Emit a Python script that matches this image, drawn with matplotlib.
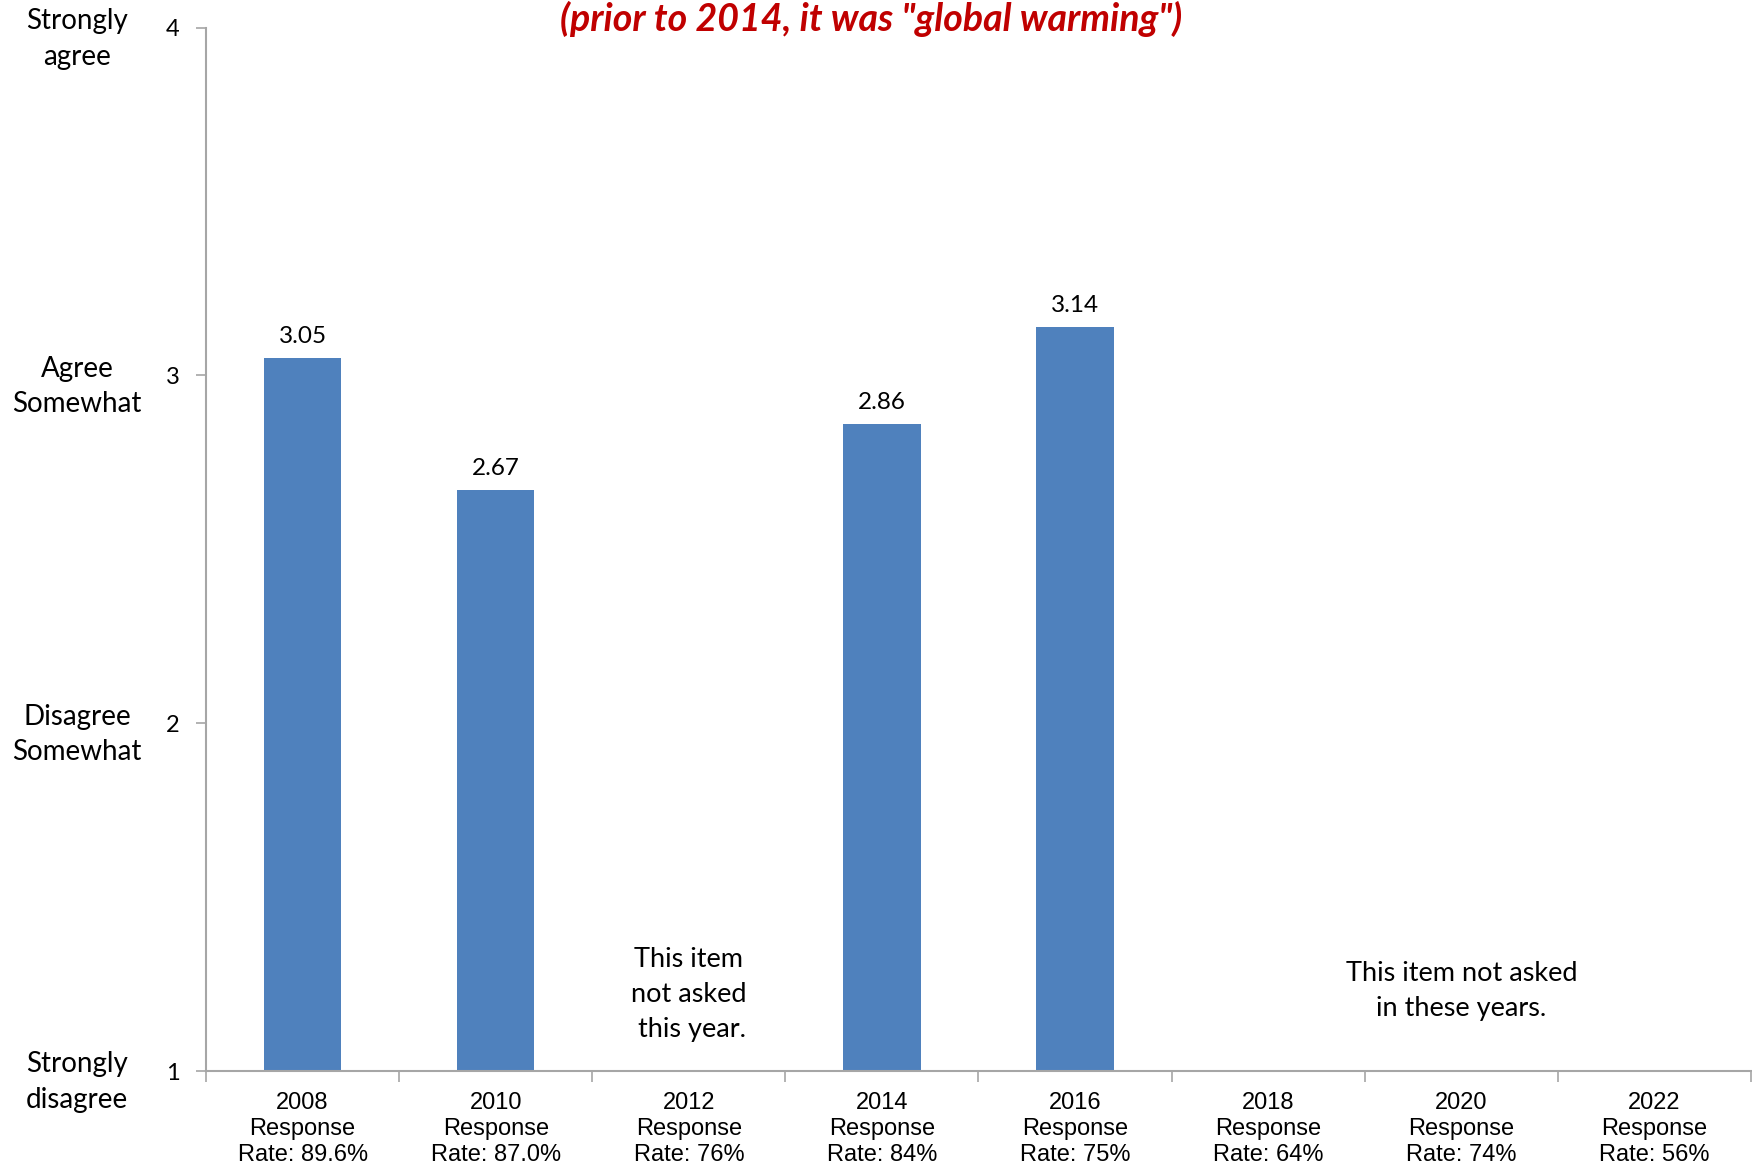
""" Mean agreement by survey year, bar chart with response rates. """

import matplotlib
matplotlib.use("Agg")
import matplotlib.pyplot as plt
import numpy as np

# data
years = ["2008", "2010", "2012", "2014", "2016", "2018", "2020", "2022"]
response_rates = ["89.6%", "87.0%", "76%", "84%", "75%", "64%", "74%", "56%"]
means = [3.05, 2.67, None, 2.86, 3.14, None, None, None]
scale_ticks = [1, 2, 3, 4]
scale_labels = ["Strongly\ndisagree", "Disagree\nSomewhat", "Agree\nSomewhat", "Strongly\nagree"]
title = '(prior to 2014, it was "global warming")'

BAR = "#4F81BD"
AXIS = "#A6A6A6"
BODY = ["Lato", "DejaVu Sans"]
NARROW = ["Liberation Sans", "DejaVu Sans"]

fig = plt.figure(figsize=(17.52, 11.69), dpi=100)
ax = fig.add_axes([0.1176, 0.0838, 0.8818, 0.8925])

x = np.arange(len(years))
for i, v in enumerate(means):
    if v is None:
        continue
    ax.bar(x[i], v - 1, bottom=1, width=0.4, color=BAR, zorder=2)
    ax.annotate("{:.2f}".format(v), (x[i], v), xytext=(0, 8), textcoords="offset points",
                ha="center", va="bottom", fontsize=17.5, family=BODY)

ax.set_xlim(-0.5, len(years) - 0.5)
ax.set_ylim(1, 4)

# category labels between tick marks
ax.set_xticks(x)
ax.set_xticklabels(["{}\nResponse\nRate: {}".format(y, r) for y, r in zip(years, response_rates)],
                   fontsize=17, family=NARROW, linespacing=1.25)
ax.set_xticks(np.arange(-0.5, len(years)), minor=True)
ax.tick_params(axis="x", which="major", length=0, pad=15)
ax.tick_params(axis="x", which="minor", length=8, width=1.2, color=AXIS, direction="out")

ax.set_yticks(scale_ticks)
ax.set_yticklabels([str(t) for t in scale_ticks], fontsize=17, family=BODY)
ax.tick_params(axis="y", length=7, width=1.2, color=AXIS, pad=12)

for s in ["top", "right"]:
    ax.spines[s].set_visible(False)
for s in ["left", "bottom"]:
    ax.spines[s].set_color(AXIS)
    ax.spines[s].set_linewidth(1.5)

# verbal scale on the far left
for t, lab in zip(scale_ticks, scale_labels):
    ax.annotate(lab, (0.044, t), xycoords=("figure fraction", "data"), xytext=(0, -8),
                textcoords="offset points", ha="center", va="center", fontsize=20,
                family=BODY, linespacing=1.45, annotation_clip=False)

ax.text(2, 1.22, "This item\nnot asked\n this year.", ha="center", va="center",
        fontsize=19.5, family=BODY, linespacing=1.48)
ax.text(6, 1.23, "This item not asked\nin these years.", ha="center", va="center",
        fontsize=19.5, family=BODY, linespacing=1.48)

fig.text(0.497, 0.984, title, ha="center", va="center", fontsize=27, color="#C00000",
         fontweight="bold", fontstyle="italic", family=BODY)

fig.savefig("out.png", dpi=100)
